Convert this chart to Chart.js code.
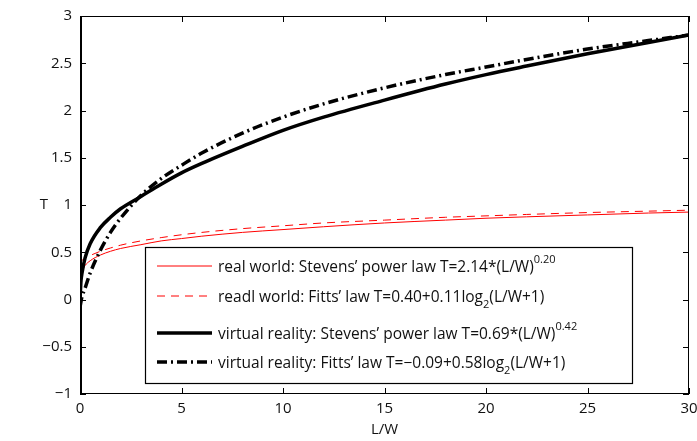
<!DOCTYPE html>
<html>
<head>
<meta charset="utf-8">
<script src="https://cdn.jsdelivr.net/npm/chart.js@4.4.1/dist/chart.umd.min.js"></script>
<style>
  html, body { margin: 0; padding: 0; background: #fff; }
  #wrap { width: 697px; height: 441px; }
</style>
</head>
<body>
<div id="wrap"><canvas id="chart" width="697" height="441"></canvas></div>
<script>
// values
const lw = [0, 0.05, 0.1, 0.25, 0.5, 1, 1.5, 2, 3, 4, 5, 6, 8, 10, 12, 15, 18, 20, 22, 25, 28, 30];
const vrStevens = [0, 0.20, 0.28, 0.44, 0.59, 0.76, 0.87, 0.96, 1.09, 1.22, 1.34, 1.44, 1.62, 1.79, 1.93, 2.11, 2.28, 2.38, 2.47, 2.60, 2.72, 2.80];
const vrFitts = [-0.08, -0.02, 0.03, 0.12, 0.28, 0.52, 0.71, 0.86, 1.10, 1.28, 1.42, 1.55, 1.76, 1.93, 2.07, 2.24, 2.38, 2.46, 2.54, 2.65, 2.74, 2.80];
const realStevens = [null, null, 0.30, 0.36, 0.41, 0.47, 0.51, 0.54, 0.58, 0.62, 0.645, 0.67, 0.71, 0.74, 0.77, 0.81, 0.84, 0.86, 0.875, 0.895, 0.915, 0.925];
const realFitts = [0.40, 0.41, 0.415, 0.435, 0.465, 0.51, 0.545, 0.575, 0.62, 0.655, 0.685, 0.71, 0.75, 0.78, 0.81, 0.84, 0.87, 0.885, 0.90, 0.92, 0.935, 0.945];

const xTicks = [0, 5, 10, 15, 20, 25, 30];
const yTicks = [-1, -0.5, 0, 0.5, 1, 1.5, 2, 2.5, 3];

// legend rows: [text, kind] pieces, kind = sup / sub
const legendText = [
  [['real world: Stevens\u2019 power law T=2.14*(L/W)'], ['0.20', 'sup']],
  [['readl world: Fitts\u2019 law T=0.40+0.11log'], ['2', 'sub'], ['(L/W+1)']],
  [['virtual reality: Stevens\u2019 power law T=0.69*(L/W)'], ['0.42', 'sup']],
  [['virtual reality: Fitts\u2019 law T=\u22120.09+0.58log'], ['2', 'sub'], ['(L/W+1)']]
];

const FONT = '"Open Sans", sans-serif';

function pts(ys) {
  return lw.map((x, i) => ({ x: x, y: ys[i] }));
}

// sample line + rich text legend, plus matlab style box and inward ticks
const framePlugin = {
  id: 'frame',
  afterDatasetsDraw(chart) {
    const { ctx, chartArea: a, scales } = chart;
    const sx = scales.x, sy = scales.y;
    ctx.save();

    // legend
    const bx = a.left + 65, by = a.top + 231, bw = 487, bh = 136;
    ctx.fillStyle = '#fff';
    ctx.fillRect(bx, by, bw, bh);
    ctx.strokeStyle = '#000';
    ctx.lineWidth = 1.2;
    ctx.strokeRect(bx + 0.5, by + 0.5, bw, bh);
    const rowY = [19, 49, 86, 115];
    chart.data.datasets.forEach((ds, r) => {
      const yy = by + rowY[r];
      ctx.strokeStyle = ds.borderColor;
      ctx.lineWidth = ds.borderWidth;
      ctx.setLineDash(ds.borderDash || []);
      ctx.beginPath();
      ctx.moveTo(bx + 12, yy);
      ctx.lineTo(bx + 67, yy);
      ctx.stroke();
      ctx.setLineDash([]);
      let tx = bx + 73;
      ctx.fillStyle = '#111';
      ctx.textBaseline = 'middle';
      ctx.textAlign = 'left';
      legendText[r].forEach(([t, kind]) => {
        ctx.font = (kind ? '11px ' : '15.5px ') + FONT;
        const dy = kind === 'sup' ? -8 : kind === 'sub' ? 7 : 0;
        ctx.fillText(t, tx, yy + 2 + dy);
        tx += ctx.measureText(t).width;
      });
    });

    // axes box
    ctx.strokeStyle = '#000';
    ctx.lineWidth = 1;
    ctx.strokeRect(a.left + 0.5, a.top + 0.5, a.width - 1, a.height - 1);
    ctx.lineWidth = 2;
    ctx.beginPath();
    ctx.moveTo(a.left + 1, a.top);
    ctx.lineTo(a.left + 1, a.bottom);
    ctx.stroke();

    // inward ticks
    ctx.lineWidth = 1;
    ctx.beginPath();
    sx.ticks.forEach(t => {
      const px = Math.round(sx.getPixelForValue(t.value)) + 0.5;
      ctx.moveTo(px, a.bottom); ctx.lineTo(px, a.bottom - 6);
      ctx.moveTo(px, a.top); ctx.lineTo(px, a.top + 6);
    });
    sy.ticks.forEach(t => {
      const py = Math.round(sy.getPixelForValue(t.value)) + 0.5;
      ctx.moveTo(a.left, py); ctx.lineTo(a.left + 6, py);
      ctx.moveTo(a.right, py); ctx.lineTo(a.right - 6, py);
    });
    ctx.stroke();

    // upright y title
    ctx.fillStyle = '#111';
    ctx.font = '15px ' + FONT;
    ctx.textAlign = 'center';
    ctx.textBaseline = 'middle';
    ctx.fillText('T', 44, (a.top + a.bottom) / 2);
    ctx.restore();
  }
};

const ctx = document.getElementById('chart').getContext('2d');
new Chart(ctx, {
  type: 'line',
  data: {
    datasets: [
      { label: 'real world Stevens', data: pts(realStevens), borderColor: '#ff0000', borderWidth: 1, order: 3 },
      { label: 'real world Fitts', data: pts(realFitts), borderColor: '#ff0000', borderWidth: 1, borderDash: [8, 6], order: 4 },
      { label: 'virtual reality Stevens', data: pts(vrStevens), borderColor: '#000', borderWidth: 3.5, order: 1 },
      { label: 'virtual reality Fitts', data: pts(vrFitts), borderColor: '#000', borderWidth: 3.5, borderDash: [10, 4, 2, 4], order: 2 }
    ]
  },
  options: {
    responsive: false,
    animation: false,
    layout: { padding: { top: 16, right: 8, left: 0, bottom: 0 } },
    elements: {
      point: { radius: 0 },
      line: { cubicInterpolationMode: 'monotone', fill: false }
    },
    plugins: { legend: { display: false }, tooltip: { enabled: false } },
    scales: {
      x: {
        type: 'linear', min: 0, max: 30,
        afterBuildTicks: s => { s.ticks = xTicks.map(v => ({ value: v })); },
        afterFit: s => { s.height = 47; s.paddingLeft = 0; s.paddingRight = 0; },
        grid: { display: false, drawTicks: false },
        border: { display: false },
        ticks: { color: '#111', padding: 6, maxRotation: 0, font: { family: FONT, size: 15 } },
        title: { display: true, text: 'L/W', color: '#111', padding: { top: 0, bottom: 2 }, font: { family: FONT, size: 15 } }
      },
      y: {
        type: 'linear', min: -1, max: 3,
        afterBuildTicks: s => { s.ticks = yTicks.map(v => ({ value: v })); },
        afterFit: s => { s.width = 80; s.paddingTop = 0; s.paddingBottom = 0; },
        grid: { display: false, drawTicks: false },
        border: { display: false },
        ticks: {
          color: '#111', padding: 8, font: { family: FONT, size: 15 },
          callback: v => (v < 0 ? '\u2212' + String(-v) : String(v))
        }
      }
    }
  },
  plugins: [framePlugin]
});
</script>
</body>
</html>
